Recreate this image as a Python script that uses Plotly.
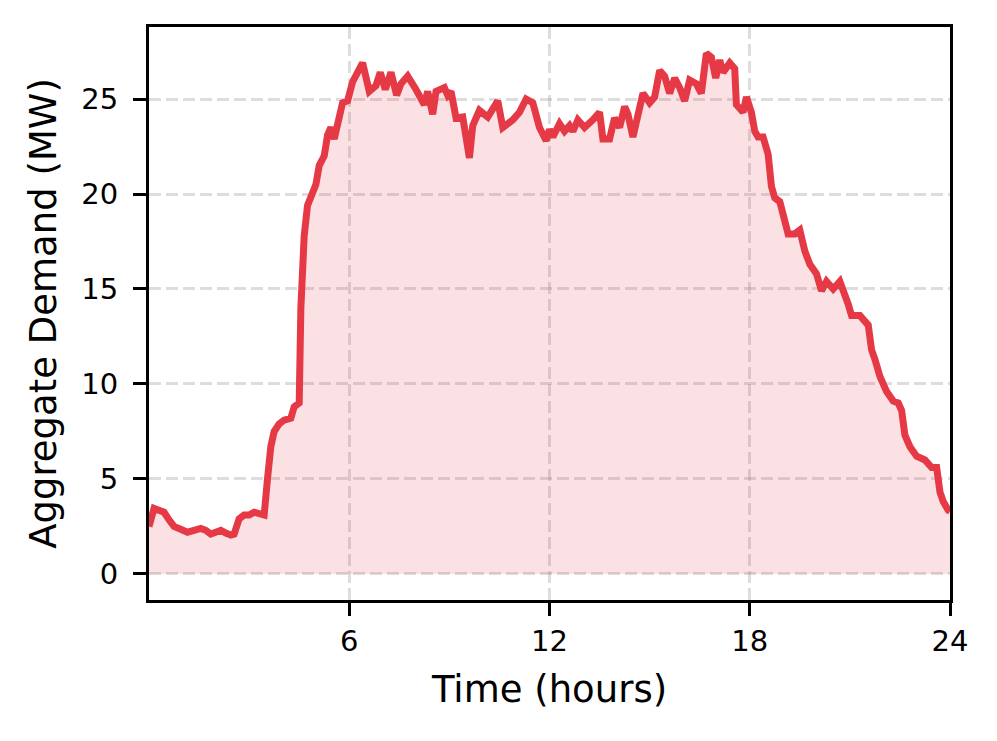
import plotly.graph_objects as go

# Time (hours) and aggregate demand (MW)
hours = [0.0, 0.15, 0.3, 0.45, 0.6, 0.75, 0.95, 1.15, 1.35, 1.55, 1.7, 1.85, 2.0, 2.15, 2.3, 2.45, 2.55,
         2.7, 2.85, 3.0, 3.15, 3.3, 3.45, 3.55, 3.65, 3.75, 3.9, 4.05, 4.25, 4.35, 4.5, 4.55, 4.65, 4.75,
         4.85, 5.0, 5.1, 5.25, 5.35, 5.45, 5.55, 5.65, 5.8, 5.95, 6.1, 6.25, 6.4, 6.6, 6.8, 6.93, 7.08,
         7.25, 7.42, 7.55, 7.75, 8.0, 8.25, 8.35, 8.5, 8.6, 8.85, 8.95, 9.05, 9.2, 9.4, 9.6, 9.7, 9.9,
         10.15, 10.45, 10.6, 10.9, 11.1, 11.3, 11.5, 11.7, 11.9, 12.0, 12.1, 12.3, 12.45, 12.6, 12.7,
         12.85, 13.05, 13.3, 13.5, 13.6, 13.8, 13.95, 14.1, 14.25, 14.35, 14.5, 14.65, 14.8, 15.0,
         15.15, 15.3, 15.45, 15.6, 15.75, 15.9, 16.05, 16.2, 16.4, 16.55, 16.7, 16.85, 16.98, 17.1,
         17.2, 17.4, 17.55, 17.6, 17.8, 17.9, 18.05, 18.15, 18.25, 18.4, 18.55, 18.65, 18.75, 18.9,
         19.05, 19.15, 19.35, 19.5, 19.65, 19.8, 20.0, 20.15, 20.3, 20.5, 20.7, 20.85, 20.95, 21.05,
         21.3, 21.55, 21.65, 21.75, 21.9, 22.1, 22.3, 22.45, 22.55, 22.65, 22.8, 23.0, 23.25, 23.45,
         23.6, 23.7, 23.8, 23.95, 24.0]

demand_mw = [2.5, 3.45, 3.35, 3.25, 2.85, 2.5, 2.35, 2.2, 2.3, 2.4, 2.3, 2.1, 2.2, 2.3, 2.15, 2.05, 2.1,
             2.9, 3.1, 3.1, 3.25, 3.2, 3.1, 5.0, 6.7, 7.5, 7.9, 8.1, 8.2, 8.8, 9.0, 14.0, 17.8, 19.4,
             19.9, 20.5, 21.5, 22.0, 23.1, 23.5, 22.9, 23.8, 24.8, 24.9, 25.9, 26.4, 26.9, 25.4, 25.7,
             26.4, 25.5, 26.4, 25.2, 25.8, 26.2, 25.5, 24.7, 25.4, 24.2, 25.4, 25.6, 25.2, 25.4, 24.0,
             24.05, 21.9, 23.6, 24.4, 24.05, 24.9, 23.5, 23.9, 24.3, 25.0, 24.8, 23.5, 22.8, 23.4, 23.0,
             23.7, 23.3, 23.6, 23.3, 23.9, 23.5, 23.9, 24.3, 22.9, 22.9, 24.0, 23.5, 24.6, 24.2, 23.0,
             24.1, 25.3, 24.8, 25.1, 26.5, 26.2, 25.3, 26.1, 25.6, 24.9, 26.0, 25.8, 25.3, 27.4, 27.2,
             26.1, 27.05, 26.4, 26.9, 26.6, 24.7, 24.3, 25.1, 24.3, 23.3, 23.0, 23.0, 22.1, 20.4, 19.8,
             19.6, 18.5, 17.9, 17.9, 18.1, 17.0, 16.3, 15.8, 14.9, 15.4, 15.0, 15.4, 14.8, 14.2, 13.6,
             13.6, 13.1, 11.8, 11.3, 10.4, 9.6, 9.1, 9.0, 8.6, 7.3, 6.7, 6.2, 6.0, 5.6, 5.6, 4.3, 3.8,
             3.35, 3.3]

x_ticks = [6, 12, 18, 24]
y_ticks = [0, 5, 10, 15, 20, 25]

LINE = "#E63946"
FONT = "DejaVu Sans"
GRID = "rgba(150,150,150,0.32)"

fig = go.Figure()
fig.add_trace(go.Scatter(
    x=hours, y=demand_mw, mode="lines",
    line=dict(color=LINE, width=7),
    fill="tozeroy", fillcolor="rgba(230,57,70,0.15)",
    showlegend=False,
))

axis_common = dict(
    showline=True, linecolor="black", linewidth=3, mirror=True,
    ticks="outside", ticklen=13, tickwidth=3, tickcolor="black",
    showgrid=True, gridcolor=GRID, gridwidth=3, griddash="12px,5px",
    zeroline=False,
    tickfont=dict(family=FONT, size=29, color="black"),
)

fig.update_layout(
    width=997, height=741,
    margin=dict(l=141, r=55, t=19, b=149),
    paper_bgcolor="white", plot_bgcolor="white",
    font=dict(family=FONT, color="black"),
    xaxis=dict(range=[0, 24], tickvals=x_ticks, ticktext=[str(t) for t in x_ticks],
               ticklabelstandoff=0,
               title=dict(text="Time (hours)", font=dict(family=FONT, size=37), standoff=20),
               **axis_common),
    yaxis=dict(range=[-1.37, 28.79], tickvals=y_ticks, ticktext=[str(t) for t in y_ticks],
               ticklabelstandoff=9,
               title=dict(text="Aggregate Demand (MW)", font=dict(family=FONT, size=37), standoff=14),
               **axis_common),
)

fig.write_html("out.html")
